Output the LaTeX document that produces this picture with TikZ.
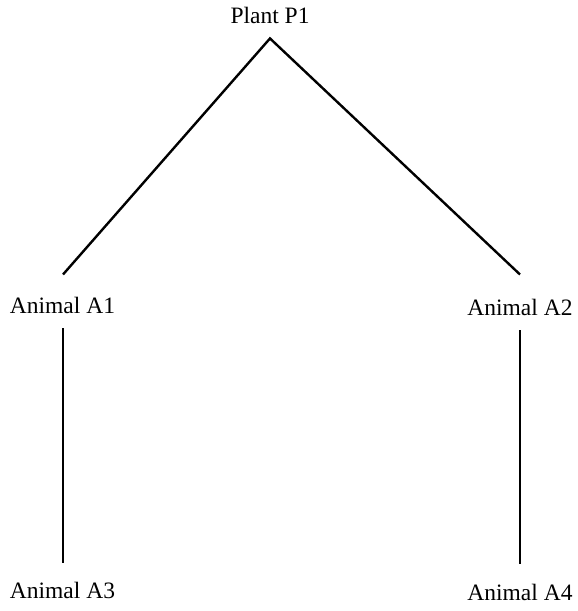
\documentclass[tikz,border=0pt]{standalone}
\usepackage{fontspec}
\setmainfont{Liberation Serif}
\usetikzlibrary{calc}
\begin{document}
\begin{tikzpicture}[x=1pt,y=-1pt,
  lbl/.style={inner sep=0pt,anchor=base,font=\fontsize{23.5}{28}\selectfont},
  edge/.style={line width=2.4pt}]
\useasboundingbox (0,0) rectangle (578,611);
\node[lbl] (p1) at (270,23) {Plant P1};
\node[lbl] (a1) at (62.5,313) {Animal A1};
\node[lbl] (a2) at (520,315) {Animal A2};
\node[lbl] (a3) at (62.5,598) {Animal A3};
\node[lbl] (a4) at (520,600) {Animal A4};
\draw[edge,line join=miter] ($(a1.north)+(0.5,-22)$) -- ($(p1.south)+(0,15)$) -- ($(a2.north)+(0,-24)$);
\draw[edge] ($(a1.south)+(0.5,15)$) -- ($(a3.north)+(0.5,-19)$);
\draw[edge] ($(a2.south)+(0,15)$) -- ($(a4.north)+(0,-20)$);
\end{tikzpicture}
\end{document}
